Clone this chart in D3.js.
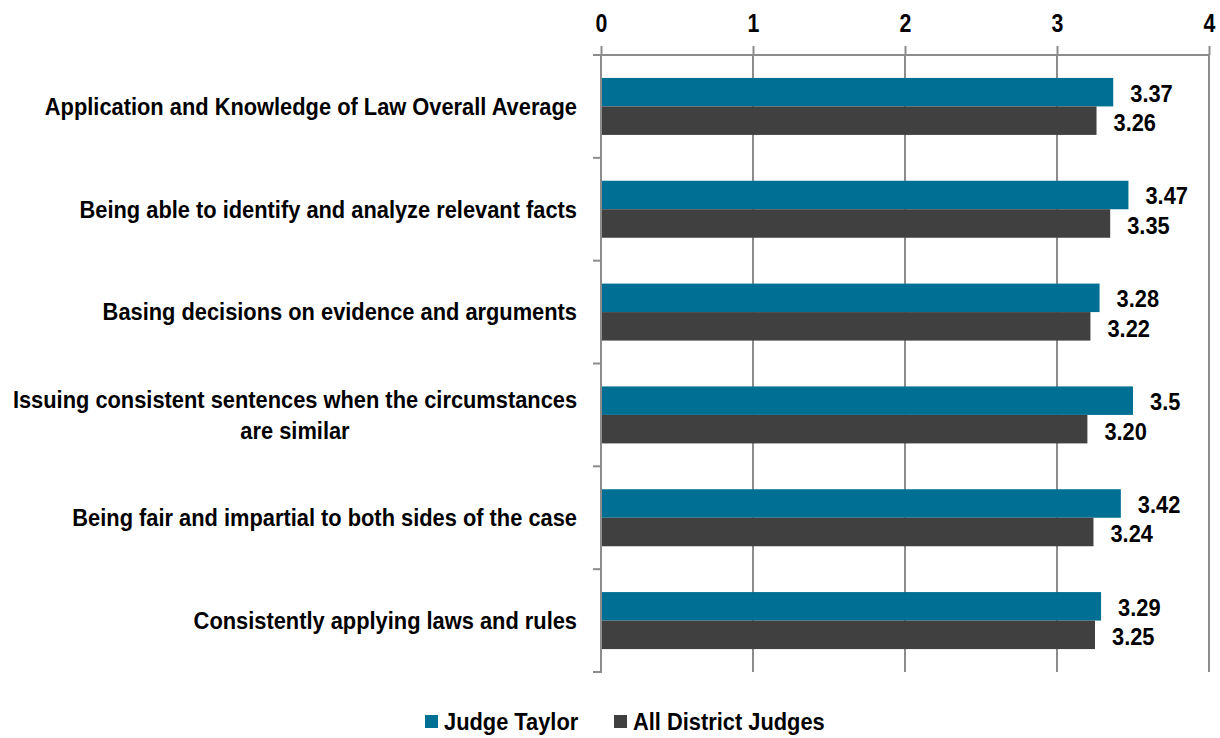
<!DOCTYPE html>
<html>
<head>
<meta charset="utf-8">
<script src="https://cdn.jsdelivr.net/npm/d3@7"></script>
<style>
  body { margin: 0; background: #fff; }
  text { font-family: "Liberation Sans", Arial, sans-serif; font-weight: bold; fill: #000; font-size: 24px; }
</style>
</head>
<body>
<script>
var categories = [
  "Application and Knowledge of Law Overall Average",
  "Being able to identify and analyze relevant facts",
  "Basing decisions on evidence and arguments",
  "Issuing consistent sentences when the circumstances|are similar",
  "Being fair and impartial to both sides of the case",
  "Consistently applying laws and rules"
];
var judgeTaylor = [3.37, 3.47, 3.28, 3.5, 3.42, 3.29];
var judgeTaylorLabels = ["3.37", "3.47", "3.28", "3.5", "3.42", "3.29"];
var allJudges = [3.26, 3.35, 3.22, 3.20, 3.24, 3.25];
var allJudgesLabels = ["3.26", "3.35", "3.22", "3.20", "3.24", "3.25"];
var xTicks = [0, 1, 2, 3, 4];
var seriesNames = ["Judge Taylor", "All District Judges"];
var colors = ["#006f94", "#404040"];

var width = 1220, height = 738;
var plotLeft = 601, plotRight = 1209, plotTop = 55, plotBottom = 672;
var barH = 28.5;
var gridColor = "#8c8c8c";
var squeeze = 0.91;   // fake a narrow font, no Arial Narrow here

var svg = d3.select("body").append("svg")
  .attr("width", width)
  .attr("height", height);

// text group squeezed horizontally around (x, y)
function narrowText(parent, x, y) {
  return parent.append("g")
    .attr("transform", "translate(" + x + "," + y + ") scale(" + squeeze + ",1)");
}

var xScale = d3.scaleLinear().domain([0, 4]).range([plotLeft, plotRight]);
var yScale = d3.scaleBand().domain(categories).range([plotTop, plotBottom]).padding(0);

// vertical grid lines
svg.append("g").selectAll("line")
  .data(xTicks.slice(1))
  .enter().append("line")
  .attr("x1", function(d) { return xScale(d); })
  .attr("x2", function(d) { return xScale(d); })
  .attr("y1", plotTop)
  .attr("y2", plotBottom)
  .attr("stroke", gridColor)
  .attr("stroke-width", 2);

// top axis
var xAxis = svg.append("g")
  .attr("transform", "translate(0," + plotTop + ")")
  .call(d3.axisTop(xScale).tickValues(xTicks).tickFormat(d3.format("d")).tickSize(9).tickPadding(14));
xAxis.attr("font-size", null).attr("font-family", null);
xAxis.select(".domain").attr("stroke", gridColor).attr("stroke-width", 2)
  .attr("d", "M" + (plotLeft - 8) + ",0H" + plotRight);
xAxis.selectAll(".tick line").attr("stroke", gridColor).attr("stroke-width", 2);
xAxis.selectAll(".tick text")
  .attr("fill", "#000")
  .style("font-size", "26px")
  .attr("transform", "scale(0.82,1)");

// bars
var groupH = barH * 2;
var grp = svg.append("g").selectAll("g")
  .data(categories)
  .enter().append("g")
  .attr("transform", function(d) {
    return "translate(0," + (yScale(d) + (yScale.bandwidth() - groupH) / 2) + ")";
  });

grp.append("rect")
  .attr("x", xScale(0) + 1)
  .attr("y", 0)
  .attr("height", barH)
  .attr("width", function(d, i) { return xScale(judgeTaylor[i]) - xScale(0) - 1; })
  .attr("fill", colors[0]);

grp.append("rect")
  .attr("x", xScale(0) + 1)
  .attr("y", barH)
  .attr("height", barH)
  .attr("width", function(d, i) { return xScale(allJudges[i]) - xScale(0) - 1; })
  .attr("fill", colors[1]);

grp.each(function(d, i) {
  var g = d3.select(this);
  narrowText(g, xScale(judgeTaylor[i]) + 17, barH / 2 + 1)
    .append("text").attr("dy", "0.35em").text(judgeTaylorLabels[i]);
  narrowText(g, xScale(allJudges[i]) + 17, barH * 1.5 + 2)
    .append("text").attr("dy", "0.35em").text(allJudgesLabels[i]);
});

// left axis
svg.append("line")
  .attr("x1", plotLeft).attr("x2", plotLeft)
  .attr("y1", plotTop).attr("y2", plotBottom + 1)
  .attr("stroke", gridColor).attr("stroke-width", 2);

var bounds = categories.map(function(d) { return yScale(d); }).concat([plotBottom]);
svg.append("g").selectAll("line")
  .data(bounds.slice(1))
  .enter().append("line")
  .attr("x1", plotLeft - 8).attr("x2", plotLeft)
  .attr("y1", function(d) { return d; })
  .attr("y2", function(d) { return d; })
  .attr("stroke", gridColor).attr("stroke-width", 2);

// category labels
var catG = svg.append("g");
categories.forEach(function(d) {
  var lines = d.split("|");
  var cy = yScale(d) + yScale.bandwidth() / 2;
  if (lines.length == 1) {
    narrowText(catG, 577, cy).append("text")
      .attr("dy", "0.35em").attr("text-anchor", "end").text(d);
  } else {
    var lineH = 31;
    var t = narrowText(catG, 295, cy).append("text").attr("text-anchor", "middle");
    lines.forEach(function(s, j) {
      t.append("tspan")
        .attr("x", 0)
        .attr("y", -lineH / 2 + j * lineH)
        .attr("dy", "0.35em")
        .text(s);
    });
  }
});

// legend
var legend = svg.append("g");
var legendX = [425, 614];
seriesNames.forEach(function(name, i) {
  legend.append("rect")
    .attr("x", legendX[i]).attr("y", 715)
    .attr("width", 13).attr("height", 13)
    .attr("fill", colors[i]);
  narrowText(legend, legendX[i] + 19, 722)
    .append("text").attr("dy", "0.35em").text(name);
});
</script>
</body>
</html>
